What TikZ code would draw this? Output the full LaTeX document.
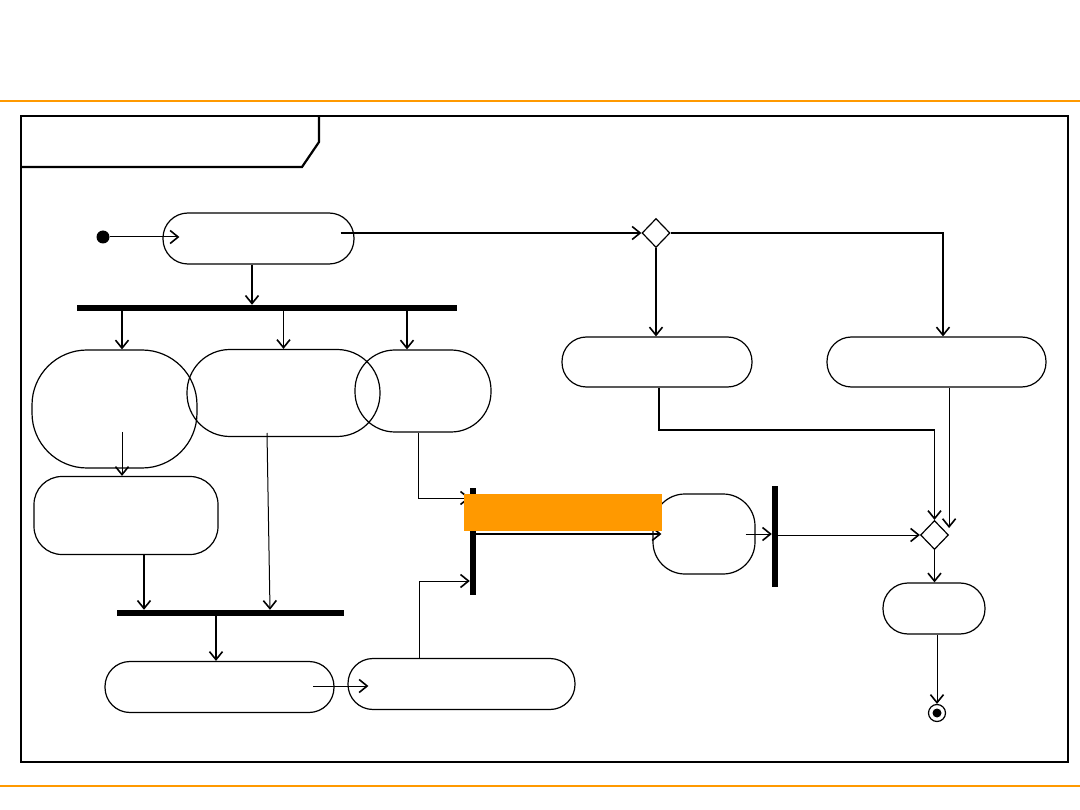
\documentclass[tikz,border=0pt]{standalone}
\usetikzlibrary{arrows.meta,shapes.geometric}
\definecolor{hiorange}{HTML}{FF9900}
\tikzset{
  act/.style={draw,line width=1.2pt,inner sep=0pt},
  barnode/.style={fill=black,inner sep=0pt},
  choice/.style={diamond,draw,line width=1.2pt,inner sep=0pt,minimum width=28pt,minimum height=29pt},
  flow/.style={->,line width=1.8pt},
  thinflow/.style={->,line width=1pt},
}
\begin{document}
\begin{tikzpicture}[x=1pt,y=-1pt,>={Straight Barb[length=8pt,width=13pt,line width=1.6pt]}]
\useasboundingbox (0,0) rectangle (1080,810);
% page rules
\draw[hiorange,line width=2pt] (0,101)--(1080,101);
\draw[hiorange,line width=2pt] (0,786)--(1080,786);
% frame with name tab
\draw[line width=2.2pt] (21,116) rectangle (1068,762);
\draw[line width=2.2pt] (319,116)--(319,142)--(302,167)--(21,167);

% nodes
\node[circle,fill,inner sep=0pt,minimum size=13pt] (init) at (103,237) {};
\node[act,minimum width=191pt,minimum height=51pt,rounded corners=25pt] (a1) at (258.5,238.5) {};
\node[choice] (d1) at (656,233) {};
\node[barnode,minimum width=380pt,minimum height=6pt] (f1) at (267,308) {};
\node[act,minimum width=165pt,minimum height=118pt,rounded corners=55pt] (b1) at (114.5,409) {};
\node[act,minimum width=193pt,minimum height=87pt,rounded corners=43pt] (b2) at (283.5,393) {};
\node[act,minimum width=136pt,minimum height=82pt,rounded corners=40pt] (b3) at (423,391) {};
\node[act,minimum width=184pt,minimum height=78pt,rounded corners=28pt] (c1) at (126,515.5) {};
\node[barnode,minimum width=227pt,minimum height=6pt] (f2) at (230.5,613) {};
\node[act,minimum width=229pt,minimum height=51pt,rounded corners=25pt] (e1) at (219.5,687) {};
\node[act,minimum width=227pt,minimum height=51pt,rounded corners=25pt] (e2) at (461.5,684) {};
\node[barnode,minimum width=6pt,minimum height=107pt] (j1) at (473,541.5) {};
\node[act,minimum width=102pt,minimum height=80pt,rounded corners=32pt] (g1) at (704,534) {};
\node[barnode,minimum width=6pt,minimum height=101pt] (j2) at (775,536.5) {};
\node[choice] (d2) at (934.5,535) {};
\node[act,minimum width=190pt,minimum height=50pt,rounded corners=24.5pt] (h1) at (657,362) {};
\node[act,minimum width=219pt,minimum height=50pt,rounded corners=24.5pt] (h2) at (936.5,362) {};
\node[act,minimum width=102pt,minimum height=51pt,rounded corners=25pt] (k1) at (934,608.5) {};
\node[circle,draw,line width=1.2pt,inner sep=0pt,minimum size=17pt] (fin) at (937,713) {};
\fill (fin) circle (4.5pt);

% free ends inside nodes
\coordinate (b1o) at (122,432);
\coordinate (b2o) at (267,433);
\coordinate (e1o) at (313,686);

% flows
\draw[thinflow,shorten >=-17pt] (init) -- (init -| a1.west);
\draw[flow,shorten <=-14pt] (a1.east |- d1.west) -- (d1.west);
\draw[flow] (a1.south -| 252,0) -- (f1.north -| 252,0);
\draw[flow] (f1.south -| 122,0) -- (b1.north -| 122,0);
\draw[thinflow] (f1.south -| b2.north) -- (b2.north);
\draw[flow] (f1.south -| 407,0) -- (b3.north -| 407,0);
\draw[thinflow] (b1o) -- (c1.north -| b1o);
\draw[flow] (c1.south -| 144,0) -- (f2.north -| 144,0);
\draw[thinflow] (b2o) -- (f2.north -| 270,0);
\draw[flow] (f2.south -| 216,0) -- (e1.north -| 216,0);
\draw[thinflow,shorten >=-21pt] (e1o) -- (e1o -| e2.west);
\draw[thinflow] (e2.north -| 419,0) |- (j1.west |- 0,581);
\draw[thinflow] (b3.south -| 418,0) |- (j1.west |- 0,498);
\draw[flow,shorten >=-9pt] (j1.east |- g1.west) -- (g1.west);
\draw[thinflow,shorten <=-10pt] (g1.east) -- (g1.east -| j2.west);
\draw[thinflow] (j2.east |- d2.west) -- (d2.west);
\draw[flow] (d1.south) -- (h1.north -| d1.south);
\draw[flow] (d1.east) -| (h2.north -| 943,0);
\draw[flow] (h1.south -| 659,0) |- (d2.north |- 0,430) -- (d2.north);
\draw[thinflow] (h2.south -| d2.east) -- (d2.east |- 0,528);
\draw[flow] (d2.south) -- (k1.north -| d2.south);
\draw[thinflow] (k1.south -| fin.north) -- (fin.north);

% highlight
\node[fill=hiorange,inner sep=0pt,minimum width=198pt,minimum height=37pt] (hl) at (563,512.5) {};
\end{tikzpicture}
\end{document}
